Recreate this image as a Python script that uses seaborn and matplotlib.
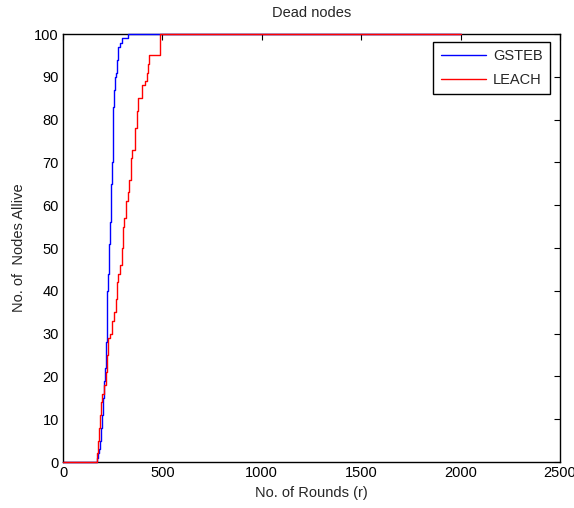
import matplotlib
matplotlib.use("Agg")
import matplotlib.pyplot as plt
import seaborn as sns
import pandas as pd

gsteb_rounds = [0, 166, 171, 176, 181, 188, 192, 195, 200, 206, 211, 216, 220, 223, 228,
                233, 237, 240, 243, 245, 250, 253, 258, 263, 267, 270, 278, 287, 295, 328, 2000]
gsteb_dead = [0, 0, 1, 2, 3, 5, 8, 11, 15, 19, 22, 28, 36, 40, 44,
              51, 56, 59, 65, 70, 77, 83, 87, 90, 91, 94, 97, 98, 99, 100, 100]

leach_rounds = [0, 166, 171, 178, 183, 186, 191, 198, 208, 215, 220, 228, 236, 248, 257,
                265, 270, 278, 287, 295, 300, 308, 317, 328, 334, 341, 346, 362, 370, 379,
                396, 412, 421, 429, 433, 488, 2000]
leach_dead = [0, 0, 2, 5, 8, 11, 14, 16, 18, 21, 25, 29, 30, 33, 35,
              38, 42, 44, 46, 50, 55, 57, 61, 63, 66, 71, 73, 78, 82, 85,
              88, 89, 91, 93, 95, 100, 100]

series_names = ["GSTEB", "LEACH"]
x_ticks = [0, 500, 1000, 1500, 2000, 2500]
y_ticks = list(range(0, 101, 10))

df = pd.concat([
    pd.DataFrame({"round": gsteb_rounds, "dead": gsteb_dead, "protocol": series_names[0]}),
    pd.DataFrame({"round": leach_rounds, "dead": leach_dead, "protocol": series_names[1]}),
], ignore_index=True)

sns.set_style("white")
plt.rcParams["font.family"] = ["Liberation Sans", "DejaVu Sans"]
plt.rcParams["font.size"] = 10

fig = plt.figure(figsize=(5.74, 5.08), dpi=100)
ax = fig.add_axes([63 / 574, 46 / 508, 497 / 574, 428 / 508])

sns.lineplot(data=df, x="round", y="dead", hue="protocol",
             palette={"GSTEB": "#0000ff", "LEACH": "#ff0000"},
             estimator=None, sort=False, drawstyle="steps-post",
             linewidth=1.0, clip_on=False, zorder=3, ax=ax)

ax.set_xlim(0, 2500)
ax.set_ylim(0, 100)
ax.set_xticks(x_ticks)
ax.set_yticks(y_ticks)
ax.tick_params(direction="in", length=4, width=0.8, top=True, right=True,
               labelsize=10.5, colors="black", pad=3)
for s in ax.spines.values():
    s.set_color("black")
    s.set_linewidth(1.0)

ax.set_title("Dead nodes", fontsize=10.5, pad=12)
ax.set_xlabel("No. of Rounds (r)", fontsize=10.5, labelpad=4)
ax.set_ylabel("No. of  Nodes Allive", fontsize=10.5, labelpad=6)

leg = ax.legend(loc="upper right", fontsize=10.5, frameon=True, fancybox=False,
                edgecolor="black", borderpad=0.5, handlelength=3.1,
                handletextpad=0.5, labelspacing=0.65, borderaxespad=0,
                bbox_to_anchor=(0.98, 0.981), framealpha=1)
leg.get_frame().set_linewidth(1.0)

fig.savefig("out.png", dpi=100)
